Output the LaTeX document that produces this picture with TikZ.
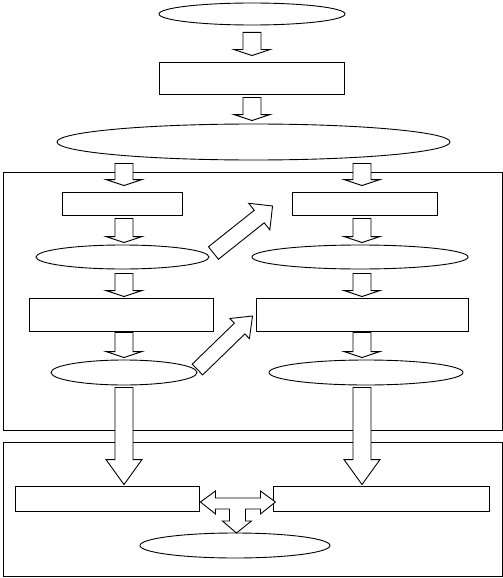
\documentclass[tikz,border=0pt]{standalone}
\usepackage{tikz}
\usetikzlibrary{shapes.geometric, calc}

% hollow block arrow: head length, shaft half width, head half width, start, tip
\newcommand{\blockarrow}[5]{%
  \coordinate (ba-s) at #4;
  \coordinate (ba-t) at #5;
  \coordinate (ba-m) at ($(ba-t)!#1!(ba-s)$);
  \draw[blockarr] ($(ba-s)!#2!90:(ba-t)$) -- ($(ba-m)!#2!90:(ba-t)$)
    -- ($(ba-m)!#3!90:(ba-t)$) -- (ba-t) -- ($(ba-m)!#3!-90:(ba-t)$)
    -- ($(ba-m)!#2!-90:(ba-t)$) -- ($(ba-s)!#2!-90:(ba-t)$) -- cycle;
}

\begin{document}
\begin{tikzpicture}[x=1pt,y=-1pt,
  box/.style={draw,rectangle,inner sep=0pt,line width=0.9pt},
  oval/.style={draw,ellipse,inner sep=0pt,line width=0.9pt},
  blockarr/.style={draw,fill=white,line width=0.9pt,line join=miter}]
  \useasboundingbox (0,0) rectangle (503,578);

  % group frames
  \draw[line width=0.9pt] (3,172) rectangle (502,430);
  \draw[line width=0.9pt] (3,442) rectangle (502,576);

  % top chain
  \node[oval,minimum width=186pt,minimum height=22pt] (top) at (252,14) {};
  \node[box,minimum width=185pt,minimum height=32pt] (r0) at (251.5,78) {};
  \node[oval,minimum width=393pt,minimum height=36pt] (e1) at (253.5,142) {};

  % left column
  \node[box,minimum width=120pt,minimum height=23pt] (ra) at (122,203.5) {};
  \node[oval,minimum width=173pt,minimum height=24pt] (ea) at (122.5,257) {};
  \node[box,minimum width=184pt,minimum height=33pt] (rc) at (121,314.5) {};
  \node[oval,minimum width=146pt,minimum height=25pt] (ec) at (124,372.5) {};

  % right column
  \node[box,minimum width=145pt,minimum height=23pt] (rb) at (364.5,203.5) {};
  \node[oval,minimum width=216pt,minimum height=24pt] (eb) at (360,257) {};
  \node[box,minimum width=212pt,minimum height=33pt] (rd) at (362,314.5) {};
  \node[oval,minimum width=194pt,minimum height=25pt] (ed) at (366,372.5) {};

  % bottom group
  \node[box,minimum width=184pt,minimum height=25pt] (re) at (107,498.5) {};
  \node[box,minimum width=216pt,minimum height=25pt] (rf) at (381,498.5) {};
  \node[oval,minimum width=190pt,minimum height=25pt] (ee) at (235,545.5) {};

  % vertical arrows
  \blockarrow{6pt}{9pt}{18pt}{($(top.south)+(0,7)$)}{($(r0.north -| top)+(0,-6)$)}
  \blockarrow{6pt}{9pt}{18pt}{($(r0.south -| top)+(0,3)$)}{($(e1.north -| top)+(0,-3)$)}
  \foreach \col in {ec,rd}{
    \blockarrow{6pt}{9pt}{18pt}{($(e1.south -| \col)+(0,3)$)}{($(ra.north -| \col)+(0,-6)$)}
    \blockarrow{6pt}{9pt}{18pt}{($(ra.south -| \col)+(0,3)$)}{($(ea.north -| \col)+(0,-2)$)}
    \blockarrow{6pt}{9pt}{18pt}{($(ea.south -| \col)+(0,4)$)}{($(rc.north -| \col)+(0,-1)$)}
    \blockarrow{6pt}{9pt}{18pt}{($(rc.south -| \col)+(0,1)$)}{($(ec.north -| \col)+(0,-2)$)}
    \blockarrow{25pt}{9pt}{18pt}{($(ec.south -| \col)+(0,2)$)}{($(re.north -| \col)+(0,-1)$)}
  }

  % diagonal arrows
  \blockarrow{17pt}{8pt}{17pt}{($(ea.east)+(4,-4)$)}{($(rb.west)+(-19,2.5)$)}
  \blockarrow{18pt}{7.5pt}{14pt}{($(ec.east)+(0,-3)$)}{($(rd.west)+(-3,1.5)$)}

  % two-way arrow with branch down
  \coordinate (tl) at ($(re.east)+(1,3.5)$);
  \draw[blockarr] (tl) -- ++(15,-11) -- ++(0,7) -- ++(45,0) -- ++(0,-7)
    -- ++(15,11) -- ++(-15,12) -- ++(0,-5) -- ++(-15,0) -- ++(0,12)
    -- ++(6,0) -- ++(-15,12) -- ++(-14,-12) -- ++(7,0) -- ++(0,-12)
    -- ++(-14,0) -- ++(0,5) -- cycle;
\end{tikzpicture}
\end{document}
